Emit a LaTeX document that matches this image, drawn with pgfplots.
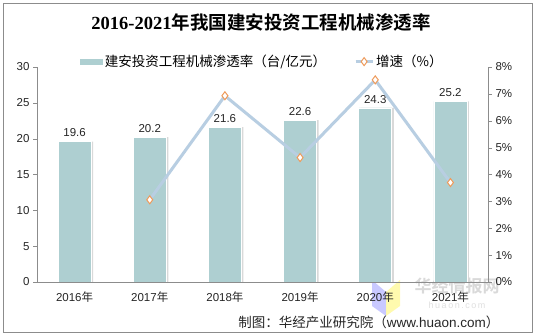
\documentclass[border=0pt]{standalone}
\usepackage{pgfplots}
\pgfplotsset{compat=1.18}
\usepackage{fontspec}
\setmainfont{Liberation Sans}
\newfontfamily\cjk{Noto Sans CJK SC}[BoldFont={Noto Sans CJK SC Bold}]
\newfontfamily\titlefont{Liberation Serif}
\definecolor{barc}{HTML}{AECFD1}
\definecolor{linec}{HTML}{B8CEE2}
\definecolor{markc}{HTML}{EE9A5A}
\definecolor{axc}{HTML}{8C8C8C}
\begin{document}
\begin{tikzpicture}
\useasboundingbox (0pt,0pt) rectangle (535pt,336pt);
\fill[white] (0pt,0pt) rectangle (535pt,336pt);
\draw[black!45, line width=0.8pt] (3pt,4pt) rectangle (532pt,333pt);
\node at (261pt,314pt) {\fontsize{18.5}{21}\selectfont\bfseries{\titlefont 2016-2021}{\cjk 年我国建安投资工程机械渗透率}};
% watermark
\fill[blue!35, opacity=0.6] (372pt,56pt) -- (386pt,44pt) -- (386pt,20pt) -- (372pt,30pt) -- cycle;
\fill[yellow!45, opacity=0.7] (386pt,44pt) -- (400pt,56pt) -- (400pt,30pt) -- (386pt,20pt) -- cycle;
\node[text=black!15] at (457pt,50pt) {\fontsize{17}{19}\selectfont\cjk\bfseries 华经情报网};
\node[text=black!12] at (457pt,31pt) {\fontsize{9}{10}\selectfont h\,u\,a\,o\,n\,.\,c\,o\,m};
\node[anchor=east, text=black!85] at (503pt,14pt) {\fontsize{13.5}{15}\selectfont\cjk 制图：华经产业研究院（{\rmfamily www.huaon.com}）};
\begin{axis}[
  at={(37pt,54pt)}, anchor=origin, scale only axis,
  width=451pt, height=215pt,
  xmin=0, xmax=6, ymin=0, ymax=30,
  ytick={0,5,...,30},
  axis y line*=left, axis x line*=bottom,
  axis line style={axc,-},
  tick align=outside,
  xtick={0.5,1.5,...,5.5},
  xticklabels={2016{\cjk 年},2017{\cjk 年},2018{\cjk 年},2019{\cjk 年},2020{\cjk 年},2021{\cjk 年}},
  x tick style={draw=none},
  minor xtick={0,1,...,6},
  minor x tick style={axc},
  minor tick length=4pt,
  y tick style={axc},
  major tick length=4pt,
  tick label style={font=\fontsize{11.5}{13}\selectfont, text=black!85},
  /pgf/number format/assume math mode=true,
  xticklabel style={yshift=-2pt},
]
\addplot[ybar, bar width=33pt, bar shift=2pt, fill=black!15, draw=none]
  coordinates {(0.5,19.6) (1.5,20.2) (2.5,21.6) (3.5,22.6) (4.5,24.3) (5.5,25.2)};
\addplot[ybar, bar width=33pt, bar shift=0pt, fill=barc, draw=white, line width=0.6pt,
  nodes near coords,
  nodes near coords style={font=\fontsize{11.5}{13}\selectfont, text=black!85, yshift=1pt,
    /pgf/number format/.cd, fixed, precision=1, fixed zerofill, assume math mode=true}]
  coordinates {(0.5,19.6) (1.5,20.2) (2.5,21.6) (3.5,22.6) (4.5,24.3) (5.5,25.2)};
\end{axis}
\begin{axis}[
  at={(37pt,54pt)}, anchor=origin, scale only axis,
  width=451pt, height=215pt,
  xmin=0, xmax=6, ymin=0, ymax=8,
  ytick={0,...,8},
  yticklabel={\pgfmathprintnumber{\tick}\%},
  axis y line*=right, axis x line=none,
  axis line style={axc,-},
  tick align=outside, major tick length=4pt,
  y tick style={axc},
  tick label style={font=\fontsize{11.5}{13}\selectfont, text=black!85},
  /pgf/number format/assume math mode=true,
  legend columns=2,
  legend style={draw=none, fill=none, at={(0.5,1.025)}, anchor=center,
    font=\fontsize{13.5}{15}\selectfont\cjk, /tikz/every even column/.append style={column sep=26pt}},
]
\addlegendimage{legend image code/.code={\fill[barc] (0pt,-2.5pt) rectangle (22pt,2.5pt);}}
\addlegendentry{建安投资工程机械渗透率（台/亿元）}
\addplot[linec, line width=3pt, mark=diamond*, mark size=4pt,
  mark options={fill=white, draw=markc, line width=1pt}]
  coordinates {(1.5,3.06) (2.5,6.93) (3.5,4.63) (4.5,7.52) (5.5,3.70)};
\addlegendentry{增速（\%）}
\end{axis}
\end{tikzpicture}
\end{document}
